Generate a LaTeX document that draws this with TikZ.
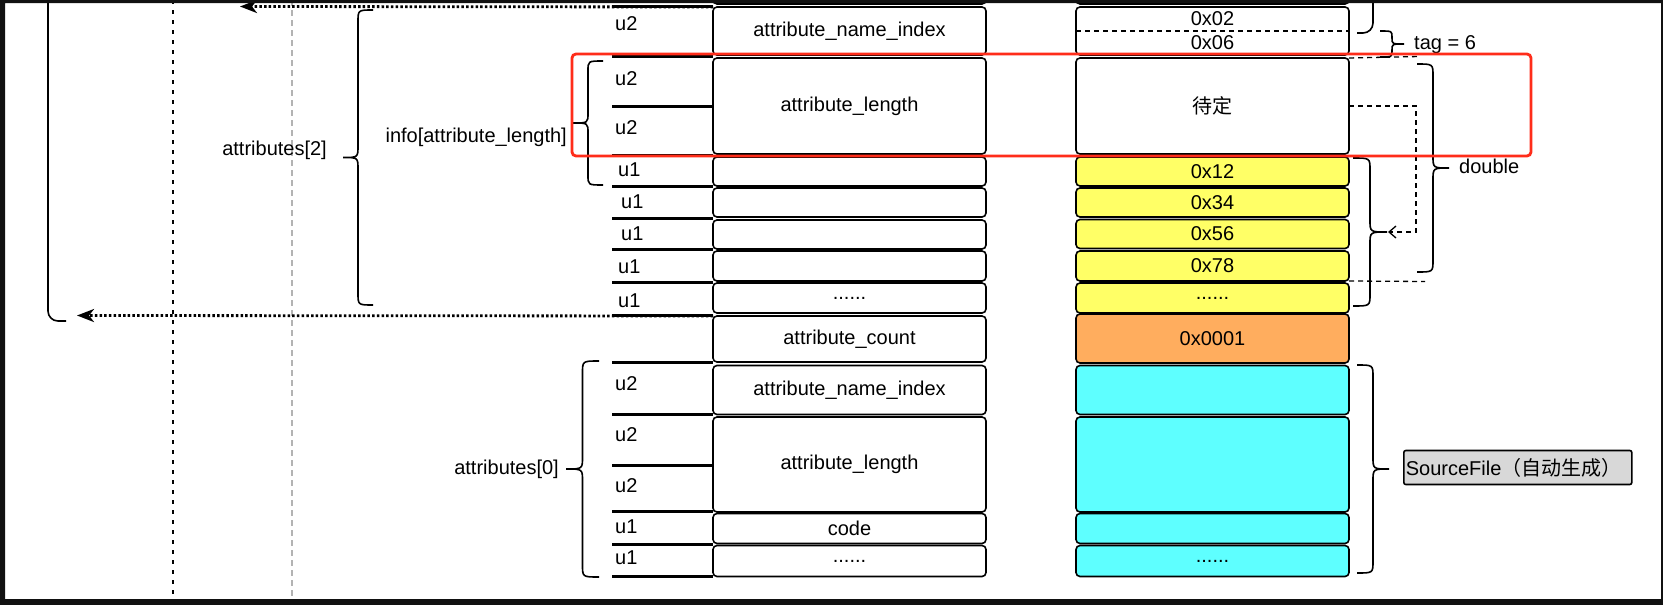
\documentclass[tikz,border=0pt]{standalone}
\usepackage{fontspec}
\setmainfont{Liberation Sans}
\newfontfamily\cjk{Noto Sans CJK SC}
\usetikzlibrary{arrows.meta}
\definecolor{frm}{HTML}{111111}
\definecolor{yel}{HTML}{FFFF66}
\definecolor{org}{HTML}{FFAD5E}
\definecolor{cyn}{HTML}{5EFFFF}
\definecolor{gbox}{HTML}{D8D8D8}
\definecolor{redbox}{HTML}{FF2D1A}
\definecolor{gline}{HTML}{B3B3B3}
% right-opening brace: #1 x of ends, #2 top y, #3 bottom y, #4 width (neg = left brace), #5 rounding
\newcommand{\BraceR}[5]{%
  \draw[brc] (#1,#2) .. controls ({#1+(#4)/2},#2) .. ({#1+(#4)/2},{#2+#5})
    -- ({#1+(#4)/2},{(#2+#3)/2-#5}) .. controls ({#1+(#4)/2},{(#2+#3)/2}) .. ({#1+(#4)},{(#2+#3)/2})
    .. controls ({#1+(#4)/2},{(#2+#3)/2}) .. ({#1+(#4)/2},{(#2+#3)/2+#5})
    -- ({#1+(#4)/2},{#3-#5}) .. controls ({#1+(#4)/2},#3) .. (#1,#3);}
\begin{document}
\begin{tikzpicture}[x=1pt,y=-1pt,
  font=\fontsize{20}{24}\selectfont,
  cell/.style={draw=black, line width=1.6pt, rounded corners=4pt, minimum width=273pt,
    anchor=north west, inner sep=0pt, outer sep=0pt},
  yelcell/.style={cell, fill=yel},
  orgcell/.style={cell, fill=org},
  cyncell/.style={cell, fill=cyn},
  lab/.style={inner sep=0pt, anchor=west},
  labE/.style={inner sep=0pt, anchor=east},
  uline/.style={line width=3pt},
  brc/.style={line width=1.6pt},
  dsh/.style={line width=1.3pt, dash pattern=on 5pt off 4pt},
  dots/.style={line width=2.8pt, dash pattern=on 2.5pt off 2.2pt,
    -{Stealth[length=17pt,width=13pt,inset=5pt]}},
  srcbox/.style={draw=black, fill=gbox, line width=1.6pt, rounded corners=2pt, anchor=west,
    minimum height=34pt, inner xsep=2pt, inner ysep=0pt, text width=224pt, align=left},
]
\useasboundingbox (0,0) rectangle (1663,605);
\fill[white] (0,0) rectangle (1663,605);

% vertical guide lines
\draw[line width=2pt, dash pattern=on 4pt off 6pt] (173,0) -- (173,605);
\draw[gline, line width=1.6pt, dash pattern=on 6pt off 4pt] (292,0) -- (292,605);

% left bracket (lower end)
\draw[brc, rounded corners=10pt] (48,-20) -- (48,321) -- (66,321);

% left column
\node[cell, minimum height=44pt] (L0) at (713,-40) {};
\node[cell, minimum height=48pt] (L1) at (713,7) {attribute\_name\_index};
\node[cell, minimum height=96pt] (L2) at (713,58) {attribute\_length};
\node[cell, minimum height=29pt] (L3) at (713,157) {};
\node[cell, minimum height=29pt] (L4) at (713,188) {};
\node[cell, minimum height=29pt] (L5) at (713,220) {};
\node[cell, minimum height=30pt] (L6) at (713,251) {};
\node[cell, minimum height=30pt] (L7) at (713,283) {......};
\node[cell, minimum height=46pt] (L8) at (713,316) {attribute\_count};
\node[cell, minimum height=49pt] (L9) at (713,365.5) {attribute\_name\_index};
\node[cell, minimum height=95pt] (L10) at (713,417) {attribute\_length};
\node[cell, minimum height=30pt] (L11) at (713,513.5) {code};
\node[cell, minimum height=31pt] (L12) at (713,545.5) {......};

% right column
\node[cell, minimum height=44pt] (R0) at (1076,-40) {};
\node[cell, minimum height=48pt] (R1) at (1076,7) {};
\node (v02) at ([yshift=12pt]R1.center) {0x02};
\node (v06) at ([yshift=-12pt]R1.center) {0x06};
\draw[dsh] (R1.west) -- (R1.east);
\node[cell, minimum height=96pt] (R2) at (1076,58) {{\cjk 待定}};
\node[yelcell, minimum height=29pt] (R3) at (1076,157) {0x12};
\node[yelcell, minimum height=29pt] (R4) at (1076,188) {0x34};
\node[yelcell, minimum height=29pt] (R5) at (1076,219.5) {0x56};
\node[yelcell, minimum height=30pt] (R6) at (1076,251) {0x78};
\node[yelcell, minimum height=30pt] (R7) at (1076,283) {......};
\node[orgcell, minimum height=49pt] (R8) at (1076,314) {0x0001};
\node[cyncell, minimum height=49pt] (R9) at (1076,365.5) {};
\node[cyncell, minimum height=95pt] (R10) at (1076,417) {};
\node[cyncell, minimum height=30pt] (R11) at (1076,513.5) {};
\node[cyncell, minimum height=31pt] (R12) at (1076,545.5) {......};

% dotted arrows back to the left
\coordinate (topEnd) at (240,6.5);
\coordinate (botEnd) at (77,315.5);
\draw[dots] (L1.north west) -- (topEnd);
\draw[dots] (L8.north west) -- (botEnd);

% size underlines
\foreach \yy in {6.5,56,106,155.5,186.5,218,249.5,282,315,362,414.5,465,511,544,576.5}
  \draw[uline] (612,\yy) -- (713,\yy);

% size labels
\node[lab] (u1a) at (615,24) {u2};
\node[lab] (u1b) at (615,79) {u2};
\node[lab] (u1c) at (615,128) {u2};
\node[lab] (u1d) at (618,170) {u1};
\node[lab] (u1e) at (621,202) {u1};
\node[lab] (u1f) at (621,234) {u1};
\node[lab] (u1g) at (618,267) {u1};
\node[lab] (u1h) at (618,301) {u1};
\node[lab] (u2a) at (615,384) {u2};
\node[lab] (u2b) at (615,435) {u2};
\node[lab] (u2c) at (615,486) {u2};
\node[lab] (u2d) at (615,527) {u1};
\node[lab] (u2e) at (615,558) {u1};

% left braces and their labels
\BraceR{373}{10}{305}{-30}{12}
\node[labE] (t2) at (327,150) {attributes[2]};
\BraceR{603}{61}{185}{-30}{10}
\node[labE] (tinfo) at (567,137) {info[attribute\_length]};
\BraceR{599}{361}{577}{-33}{12}
\node[labE] (t0) at (559,469) {attributes[0]};

% right braces
\draw[brc, rounded corners=10pt] (1373,-20) -- (1373,33) -- (1357,33);
\BraceR{1380}{31}{57}{24}{6}
\node[lab] (ttag) at (1414,45) {tag = 6};
\BraceR{1417}{64}{272}{32}{12}
\node[lab] (tdbl) at (1459,166) {double};
\BraceR{1353}{158}{306}{34}{12}
\BraceR{1357}{365}{573}{32}{12}
\node[srcbox] (src) at (1403,467.5) {SourceFile{\cjk （自动生成）}};

% dashed markers and arrow
\coordinate (dTop) at (1419,56.5);
\coordinate (dBot) at (1425,281.5);
\draw[dsh] (R2.north east) -- (dTop);
\draw[dsh] (R6.south east) -- (dBot);
\coordinate (yCorner) at (1416,232);
\coordinate (yTip) at (1388,232);
\draw[dsh, -{Straight Barb[length=7pt,width=12pt]}] (R2.east) -| (yCorner) -- (yTip);

% red highlight
\draw[redbox, line width=2.8pt, rounded corners=4pt] (572,54) rectangle (1531,156);

% dark frame
\fill[frm, even odd rule] (0,0) rectangle (1663,605) (5,3) rectangle (1661,599);
\end{tikzpicture}
\end{document}
